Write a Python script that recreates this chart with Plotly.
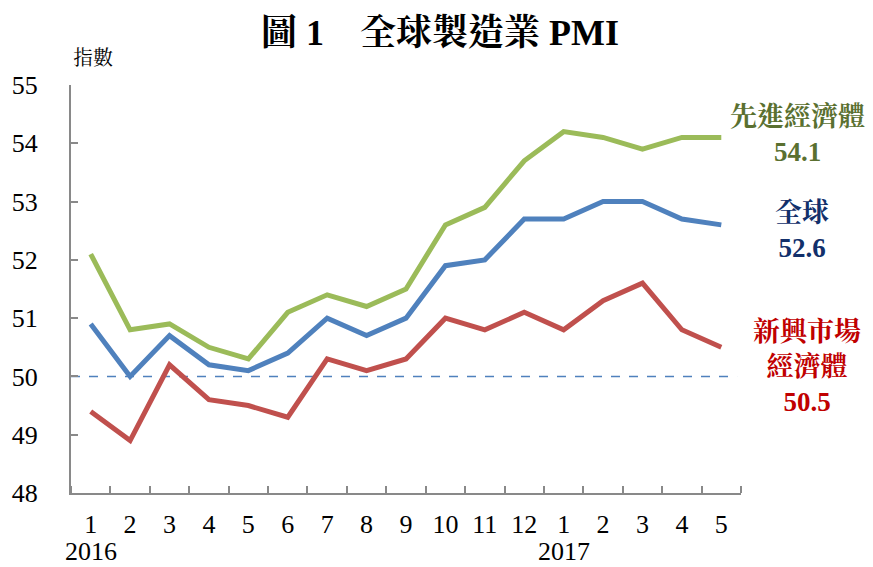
import plotly.graph_objects as go

months = ["1", "2", "3", "4", "5", "6", "7", "8", "9", "10", "11", "12", "1", "2", "3", "4", "5"]
years = {0: "2016", 12: "2017"}
advanced = [52.1, 50.8, 50.9, 50.5, 50.3, 51.1, 51.4, 51.2, 51.5, 52.6, 52.9, 53.7, 54.2, 54.1, 53.9, 54.1, 54.1]
world = [50.9, 50.0, 50.7, 50.2, 50.1, 50.4, 51.0, 50.7, 51.0, 51.9, 52.0, 52.7, 52.7, 53.0, 53.0, 52.7, 52.6]
emerging = [49.4, 48.9, 50.2, 49.6, 49.5, 49.3, 50.3, 50.1, 50.3, 51.0, 50.8, 51.1, 50.8, 51.3, 51.6, 50.8, 50.5]
threshold = 50

FONT = "Liberation Serif, Noto Serif CJK TC, Noto Sans CJK TC, serif"
W, H = 873, 567
L, R, T, B = 71, 132, 85, 74
PW, PH = W - L - R, H - T - B
idx = list(range(len(months)))


def px(x):
    return (x - L) / PW


def py(y):
    return (H - B - y) / PH


fig = go.Figure()
fig.add_trace(go.Scatter(x=[-0.5, len(months) - 0.6], y=[threshold, threshold], mode="lines",
                         line=dict(color="#4F81BD", width=1.5, dash="dash"), hoverinfo="skip"))
for vals, col in [(emerging, "#C0504D"), (world, "#4F81BD"), (advanced, "#9BBB59")]:
    fig.add_trace(go.Scatter(x=idx, y=vals, mode="lines", line=dict(color=col, width=5)))

labels = [
    ("先進經濟體<br>54.1", "#5A7030", 797, 134),
    ("全球<br>52.6", "#12306B", 802, 231),
    ("新興市場<br>經濟體<br>50.5", "#C00000", 807, 367),
]
for text, col, x, y in labels:
    fig.add_annotation(text="<b>" + text + "</b>", x=px(x), y=py(y), xref="paper", yref="paper",
                       xanchor="center", yanchor="middle", showarrow=False,
                       font=dict(family=FONT, size=27, color=col), align="center")

for i, yr in years.items():
    fig.add_annotation(text=yr, x=i, y=py(551), xref="x", yref="paper", xanchor="center",
                       yanchor="middle", showarrow=False, font=dict(family=FONT, size=26, color="black"))

fig.add_annotation(text="指數", x=px(71), y=py(45), xref="paper", yref="paper",
                   showarrow=False, font=dict(family=FONT, size=20, color="black"))

fig.update_layout(
    width=W, height=H,
    margin=dict(l=L, r=R, t=T, b=B, autoexpand=False),
    paper_bgcolor="white", plot_bgcolor="white",
    showlegend=False,
    title=dict(text="<b>圖 1　全球製造業 PMI</b>", x=440 / W, xanchor="center", xref="container",
               y=1 - 32 / H, yref="container", yanchor="middle",
               font=dict(family=FONT, size=36, color="black")),
    font=dict(family=FONT, size=26, color="black"),
    xaxis=dict(range=[-0.5, len(months) - 0.5], tickmode="array", tickvals=idx, ticktext=months,
               ticks="", showline=True, linecolor="#898989", linewidth=2, showgrid=False, zeroline=False,
               ticklabelstandoff=7, automargin=False,
               minor=dict(tickmode="array", tickvals=[i - 0.5 for i in range(len(months) + 1)],
                          ticks="inside", ticklen=7, tickwidth=1.5, tickcolor="#898989", showgrid=False)),
    yaxis=dict(range=[48, 55], dtick=1, tick0=48, ticks="inside", ticklen=7, tickwidth=1.5,
               tickcolor="#898989", showline=True, linecolor="#898989", linewidth=2,
               showgrid=False, zeroline=False, ticklabelstandoff=26, automargin=False),
)
fig.write_html("out.html", config={"displayModeBar": False},
               post_script="document.body.style.margin='0';document.body.style.overflow='hidden';")
